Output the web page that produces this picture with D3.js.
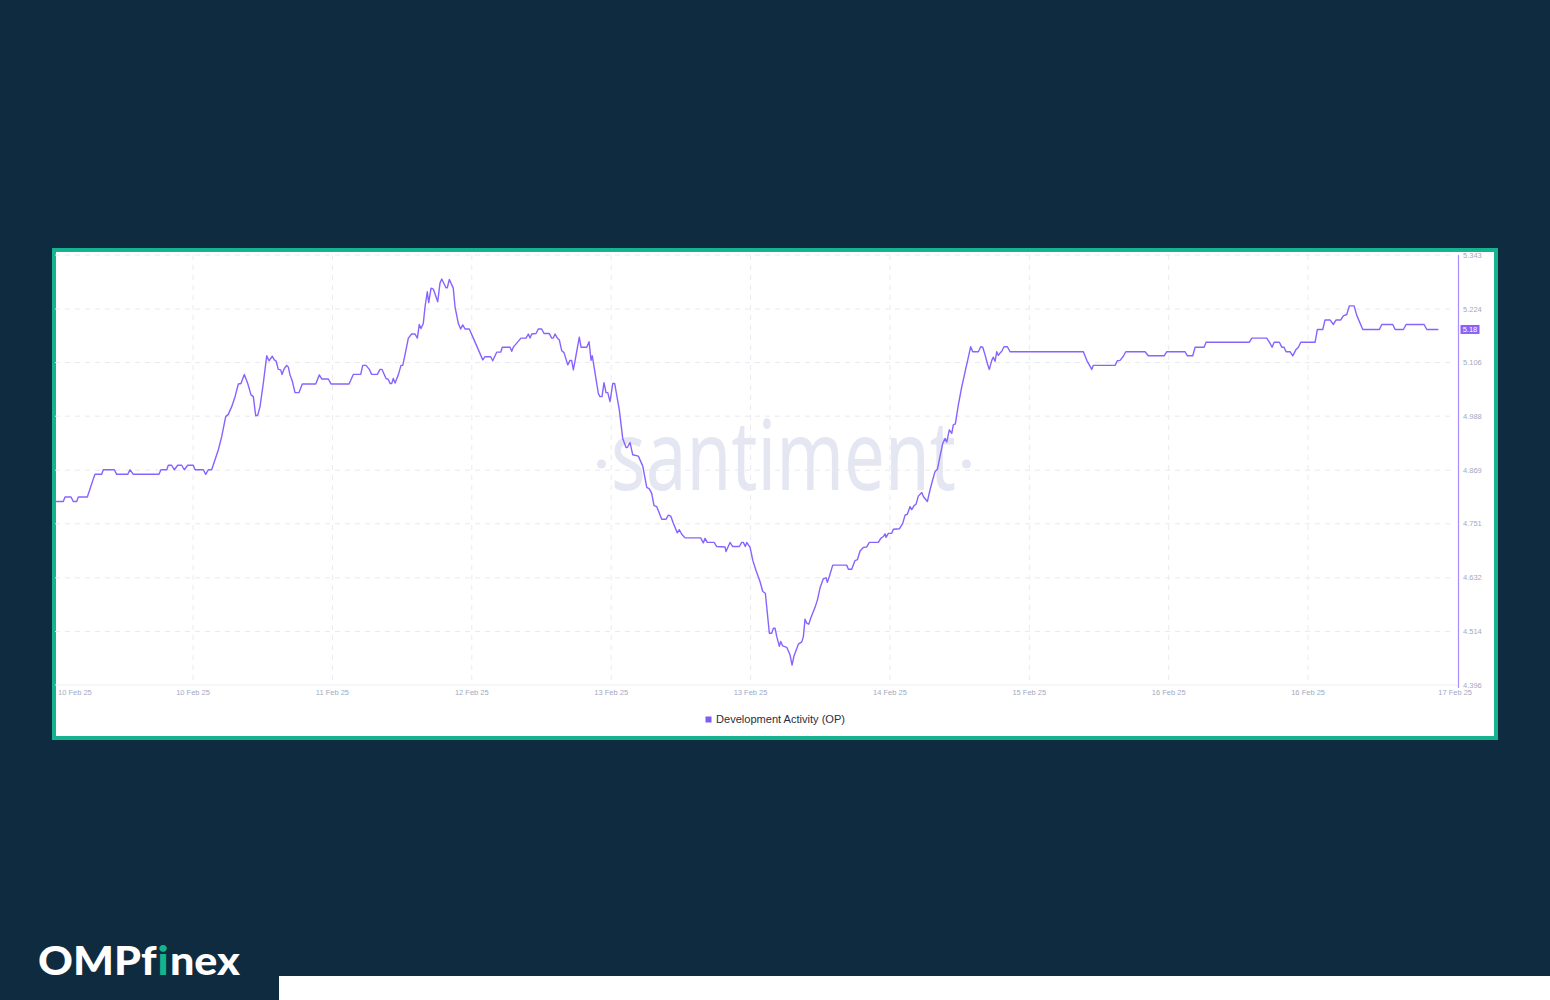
<!DOCTYPE html>
<html><head><meta charset="utf-8">
<script src="https://cdn.jsdelivr.net/npm/d3@7"></script>
<style>html,body{margin:0;padding:0;background:#0f2b40;}svg{display:block}text{font-variant-ligatures:none;font-feature-settings:"liga" 0,"clig" 0;}</style>
</head><body><svg id="c" width="1550" height="1000"></svg>
<script>
// ---------- DATA ----------
// [hours since start of window, Development Activity (OP)]
const devActivity = [
[0,4.800],[0.99,4.800],[1.20,4.810],[1.92,4.810],[2.19,4.800],[2.60,4.800],[2.79,4.810],[3.87,4.810],[4.59,4.850],[4.79,4.860],
[5.59,4.860],[5.78,4.870],[7.10,4.870],[7.39,4.860],[8.71,4.860],[8.98,4.870],[9.38,4.860],[12.45,4.860],[12.69,4.870],[13.38,4.870],
[13.57,4.880],[13.97,4.880],[14.29,4.870],[14.69,4.880],[15.17,4.880],[15.48,4.870],[15.89,4.880],[16.56,4.880],[16.77,4.870],[17.76,4.870],
[18.05,4.860],[18.36,4.870],[18.76,4.870],[19.16,4.892],[19.56,4.914],[19.96,4.943],[20.44,4.987],[20.75,4.992],[21.16,5.009],[21.56,5.031],
[21.95,5.059],[22.27,5.060],[22.67,5.080],[23.08,5.060],[23.47,5.035],[23.75,5.031],[24.03,4.989],[24.27,4.990],[24.55,5.009],[24.94,5.060],
[25.35,5.121],[25.63,5.110],[26.02,5.120],[26.26,5.112],[26.46,5.110],[26.74,5.091],[27.03,5.090],[27.18,5.080],[27.46,5.093],[27.75,5.100],
[27.94,5.096],[28.14,5.079],[28.42,5.065],[28.74,5.040],[29.22,5.040],[29.61,5.059],[31.22,5.059],[31.65,5.079],[31.94,5.070],[32.73,5.070],
[33.05,5.059],[35.21,5.059],[35.72,5.080],
[36.61,5.080],[36.85,5.100],[37.24,5.100],[37.64,5.091],[37.92,5.080],[38.60,5.080],[38.92,5.091],[39.16,5.091],[39.64,5.071],[39.91,5.069],
[40.12,5.060],[40.32,5.060],[40.51,5.071],[40.72,5.061],[41.11,5.079],[41.43,5.100],[41.64,5.100],[41.91,5.123],[42.31,5.160],[42.71,5.169],
[43.11,5.169],[43.39,5.160],[43.62,5.190],[43.83,5.181],[44.10,5.192],[44.31,5.229],[44.58,5.262],[44.75,5.238],[45.03,5.270],[45.30,5.268],
[45.83,5.240],[46.10,5.281],[46.31,5.290],[46.82,5.271],[46.98,5.271],[47.22,5.289],[47.69,5.270],[47.90,5.229],[48.30,5.192],[48.58,5.180],
[48.82,5.189],[49.10,5.180],[49.61,5.180],[50.09,5.160],[51.22,5.112],[51.49,5.119],[52.17,5.119],[52.41,5.110],[52.89,5.129],[53.37,5.129],
[53.56,5.140],[54.49,5.140],[54.69,5.131],[54.88,5.140],[55.29,5.149],[55.80,5.160],[56.40,5.160],[56.68,5.169],[56.88,5.160],[57.08,5.169],
[57.60,5.170],[57.87,5.180],[58.28,5.180],[58.56,5.170],[59.19,5.170],[59.48,5.160],[59.67,5.160],[59.88,5.169],[60.15,5.160],[60.39,5.156],
[60.68,5.132],[60.95,5.128],[61.40,5.101],[61.67,5.111],[61.87,5.111],[62.07,5.090],[62.39,5.122],[62.78,5.162],[62.99,5.140],[63.67,5.140],
[63.95,5.152],[64.19,5.111],[64.34,5.121],[64.67,5.083],[65.06,5.038],[65.26,5.031],[65.50,5.031],[65.74,5.062],[65.98,5.040],[66.19,5.040],
[66.46,5.020],[66.79,5.060],[67.02,5.060],[67.57,5.002],[67.98,4.939],[68.38,4.919],[68.53,4.919],[68.86,4.930],[69.18,4.903],[69.85,4.900],
[70.38,4.878],[70.86,4.831],[71.17,4.828],[71.45,4.818],[71.73,4.791],[72.05,4.789],[72.65,4.761],[73.17,4.761],[73.44,4.770],[73.73,4.768],
[74.04,4.752],[74.52,4.731],[74.76,4.738],[75.05,4.728],[75.44,4.720],[77.32,4.720],[77.63,4.709],[77.84,4.719],[78.11,4.710],[78.92,4.710],
[79.24,4.701],[80.23,4.700],[80.35,4.690],[80.83,4.710],[81.15,4.701],[81.95,4.701],[82.23,4.710],[82.42,4.710],[82.66,4.701],[82.83,4.710],
[83.23,4.699],[83.55,4.671],[83.94,4.648],[84.42,4.624],[84.75,4.602],[85.06,4.598],[85.30,4.554],[85.54,4.510],[85.82,4.510],[86.02,4.521],
[86.22,4.521],[86.42,4.503],[86.74,4.481],[86.90,4.492],[87.14,4.482],[87.62,4.479],[88.02,4.462],[88.26,4.440],[88.49,4.460],[89.01,4.486],
[89.42,4.491],[89.61,4.502],[89.81,4.541],[90.02,4.532],[90.26,4.530],[90.49,4.543],[91.01,4.567],[91.29,4.583],[91.61,4.610],
[92.00,4.630],[92.33,4.632],[92.48,4.622],[92.72,4.635],[93.13,4.660],[94.80,4.660],[95.00,4.651],[95.40,4.651],[95.80,4.670],[96.08,4.672],
[96.40,4.691],[96.79,4.699],[97.20,4.700],[97.51,4.710],[98.59,4.710],[98.88,4.719],[99.19,4.723],[99.39,4.729],[99.51,4.721],[99.79,4.730],
[100.19,4.730],[100.39,4.739],[101.11,4.740],[101.51,4.752],[101.79,4.770],[102.06,4.772],[102.39,4.789],[102.59,4.782],[102.87,4.791],[103.10,4.794],
[103.38,4.812],[103.79,4.820],[103.98,4.811],[104.46,4.800],[104.78,4.826],[105.10,4.848],[105.38,4.866],[105.66,4.871],[105.98,4.900],[106.30,4.928],
[106.58,4.939],[106.78,4.931],[107.09,4.958],[107.38,4.950],[107.57,4.969],[107.81,4.971],[108.17,5.013],[108.58,5.053],[108.85,5.075],[109.06,5.093],
[109.25,5.108],[109.65,5.141],[109.89,5.130],[110.57,5.130],[110.85,5.141],[111.09,5.140],[111.37,5.123],[111.64,5.104],[111.88,5.091],[112.17,5.111],
[112.36,5.118],[112.57,5.109],[112.77,5.130],[112.96,5.122],[113.16,5.127],[113.37,5.131],[113.64,5.141],[114.04,5.141],[114.36,5.130],[123.14,5.130],
[123.55,5.111],[124.14,5.091],[124.34,5.100],[126.94,5.100],[127.21,5.110],[127.53,5.111],[127.93,5.120],[128.22,5.130],[130.53,5.130],[130.92,5.121],
[132.81,5.121],[133.13,5.130],[135.32,5.130],[135.59,5.121],[136.24,5.121],[136.52,5.140],[137.60,5.140],[137.83,5.151],[143.02,5.151],[143.31,5.160],
[145.10,5.160],[145.41,5.151],[145.74,5.140],[145.98,5.151],[146.61,5.151],[146.90,5.140],[147.17,5.140],[147.41,5.130],[147.89,5.130],[148.21,5.121],
[148.61,5.135],[148.89,5.140],[149.17,5.151],[150.89,5.151],[151.16,5.179],[151.81,5.179],[152.08,5.200],[152.68,5.200],[153.08,5.190],[153.40,5.200],
[153.96,5.200],[154.27,5.209],[154.68,5.212],[154.99,5.231],[155.56,5.231],[155.88,5.210],[156.60,5.179],[158.59,5.179],[158.87,5.190],[160.19,5.190],
[160.47,5.179],[161.46,5.179],[161.78,5.190],[163.94,5.190],[164.26,5.179],[165.65,5.179]
];
const xDomainHours = [0, 168];
const yDomain = [4.396, 5.343];
const yTicks = [4.396, 4.514, 4.632, 4.751, 4.869, 4.988, 5.106, 5.224, 5.343];
const xTickHours = [16.53, 33.22, 49.91, 66.60, 83.29, 99.98, 116.67, 133.36, 150.05];
const xTickLabels = ["10 Feb 25","11 Feb 25","12 Feb 25","13 Feb 25","13 Feb 25","14 Feb 25","15 Feb 25","16 Feb 25","16 Feb 25"];
const startLabel = "10 Feb 25";
const endLabel = "17 Feb 25";
const lastValueLabel = "5.18";
const seriesName = "Development Activity (OP)";
const logoParts = [["OMPf", "#ffffff"], ["i", "#14b48c"], ["nex", "#ffffff"]];

// ---------- DRAW ----------
const W = 1550, H = 1000;
const svg = d3.select('#c');
svg.append('rect').attr('width', W).attr('height', H).attr('fill', '#0f2b40');

// card with teal frame
svg.append('rect').attr('x', 54).attr('y', 250).attr('width', 1442).attr('height', 488)
  .attr('fill', '#ffffff').attr('stroke', '#15b38f').attr('stroke-width', 4);

const m = {left: 55, right: 1458, top: 255, bottom: 685};
const x = d3.scaleLinear().domain(xDomainHours).range([m.left, m.right]);
const y = d3.scaleLinear().domain(yDomain).range([m.bottom, m.top]);

// watermark
const wm = svg.append('g');
const wmCx = (m.left + m.right) / 2 + 27;
wm.append('text').attr('x', wmCx).attr('y', 490).attr('text-anchor', 'middle')
  .attr('font-family', 'Noto Sans, Open Sans, sans-serif').attr('font-size', 96)
  .attr('fill', '#e4e7f2').attr('textLength', 345).attr('lengthAdjust', 'spacingAndGlyphs')
  .text('santiment');
wm.append('circle').attr('cx', wmCx - 182).attr('cy', 464).attr('r', 4.5).attr('fill', '#e4e7f2');
wm.append('circle').attr('cx', wmCx + 183).attr('cy', 464).attr('r', 4.5).attr('fill', '#e4e7f2');

// grid
const grid = svg.append('g');
grid.selectAll('line.h').data(yTicks.slice(1)).enter().append('line')
  .attr('x1', m.left).attr('x2', m.right - 3)
  .attr('y1', d => y(d)).attr('y2', d => y(d))
  .attr('stroke', '#e7e9f1').attr('stroke-width', 1).attr('stroke-dasharray', '5,5');
grid.selectAll('line.v').data(xTickHours).enter().append('line')
  .attr('x1', d => x(d)).attr('x2', d => x(d))
  .attr('y1', m.top).attr('y2', m.bottom)
  .attr('stroke', '#e9ebf2').attr('stroke-width', 1).attr('stroke-dasharray', '5,5');

// bottom axis line
svg.append('line').attr('x1', m.left).attr('x2', m.right).attr('y1', m.bottom).attr('y2', m.bottom)
  .attr('stroke', '#eceef4').attr('stroke-width', 1);

// x labels
const lblFont = 'Liberation Sans, Arial, sans-serif';
const lblColor = '#a3a9c2';
svg.selectAll('text.xl').data(xTickHours).enter().append('text')
  .attr('x', d => x(d)).attr('y', 695).attr('text-anchor', 'middle')
  .attr('font-family', lblFont).attr('font-size', 7.5).attr('fill', lblColor)
  .text((d, i) => xTickLabels[i]);
svg.append('text').attr('x', x(xDomainHours[0]) + 3).attr('y', 695).attr('text-anchor', 'start')
  .attr('font-family', lblFont).attr('font-size', 7.5).attr('fill', lblColor).text(startLabel);
svg.append('text').attr('x', x(xDomainHours[1]) + 14).attr('y', 695).attr('text-anchor', 'end')
  .attr('font-family', lblFont).attr('font-size', 7.5).attr('fill', lblColor).text(endLabel);

// right axis
svg.append('line').attr('x1', m.right + 0.5).attr('x2', m.right + 0.5).attr('y1', m.top).attr('y2', m.bottom + 3)
  .attr('stroke', '#a98eff').attr('stroke-width', 1.2);
svg.selectAll('text.yl').data(yTicks).enter().append('text')
  .attr('x', m.right + 5).attr('y', d => y(d) + 2.5).attr('text-anchor', 'start')
  .attr('font-family', lblFont).attr('font-size', 7.5).attr('fill', lblColor)
  .text(d => d.toFixed(3));

// line
const line = d3.line().x(d => x(d[0])).y(d => y(d[1]));
svg.append('path').datum(devActivity).attr('d', line)
  .attr('fill', 'none').attr('stroke', '#8763ff').attr('stroke-width', 1.4)
  .attr('stroke-linejoin', 'round');

// last value badge
const last = devActivity[devActivity.length - 1];
svg.append('rect').attr('x', m.right + 2.5).attr('y', y(last[1]) - 4.5).attr('width', 19).attr('height', 9)
  .attr('fill', '#8a63f6');
svg.append('text').attr('x', m.right + 12).attr('y', y(last[1]) + 2.6).attr('text-anchor', 'middle')
  .attr('font-family', lblFont).attr('font-size', 7.5).attr('fill', '#ffffff').text(lastValueLabel);

// legend
svg.append('rect').attr('x', 705.5).attr('y', 716.5).attr('width', 6).attr('height', 6).attr('fill', '#7d5cf6');
svg.append('text').attr('x', 716).attr('y', 723).attr('font-family', lblFont).attr('font-size', 10.5)
  .attr('textLength', 129).attr('lengthAdjust', 'spacingAndGlyphs')
  .attr('fill', '#2d2d38').text(seriesName);

// bottom white strip
svg.append('rect').attr('x', 279).attr('y', 976).attr('width', W - 279).attr('height', 24).attr('fill', '#ffffff');

// logo: three separate texts laid out side by side (no ligature merging)
const logoG = svg.append('g');
let lx = 38;
const logoTexts = [];
logoParts.forEach(([s, c]) => {
  const t = logoG.append('text').attr('x', lx).attr('y', 975)
    .attr('font-family', 'Lato, Inter, sans-serif').attr('font-weight', 900).attr('font-size', 39)
    .attr('fill', c).text(s);
  lx += t.node().getComputedTextLength() + 1;
  logoTexts.push(t);
});
// scale group to match the reference logo width (38 → 240)
const totalW = lx - 1 - 38;
const sx = 202 / totalW;
logoG.attr('transform', `translate(${38 - 38 * sx},0) scale(${sx},1)`);
</script></body></html>
